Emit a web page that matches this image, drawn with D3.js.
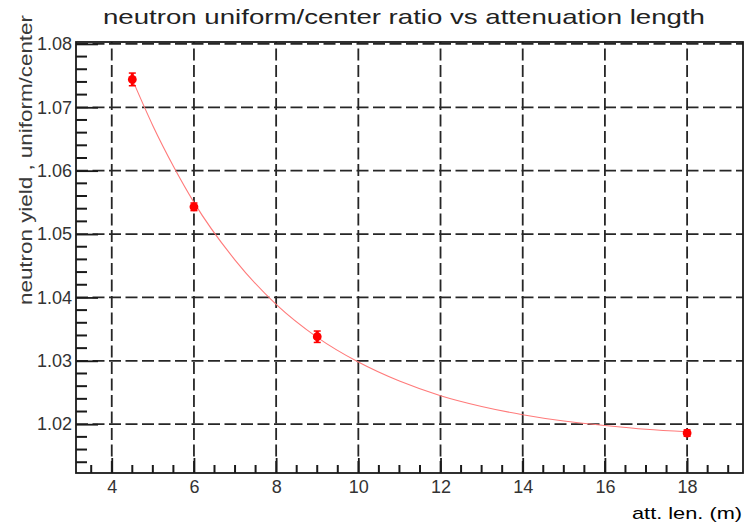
<!DOCTYPE html>
<html>
<head>
<meta charset="utf-8">
<script src="https://cdn.jsdelivr.net/npm/d3@7"></script>
<style>
  html, body { margin: 0; padding: 0; background: #fff; }
  svg { display: block; font-family: "Liberation Sans", Arial, sans-serif; }
</style>
</head>
<body>
<svg id="chart" width="749" height="523"></svg>
<script>
// Measured points: attenuation length (m) vs uniform/center neutron yield ratio
const attLength = [4.5, 6, 9, 18];
const yieldRatio = [1.0744, 1.0543, 1.0338, 1.0186];
const yieldErr = [0.0010, 0.0006, 0.0009, 0.0005];

// Fitted curve, sampled along the attenuation length
const fitX = [4.5, 5, 5.5, 6, 7, 8, 9, 10, 11, 12, 13, 14, 15, 16, 17, 18];
const fitY = [1.0744, 1.0671, 1.0607, 1.0550, 1.0459, 1.0389, 1.0337, 1.0298,
              1.0268, 1.0245, 1.0228, 1.0215, 1.0205, 1.0198, 1.0192, 1.0188];

// Axis ranges and labelled ticks
const xDomain = [3.13, 19.36];
const yDomain = [1.0123, 1.0803];
const xTicks = [4, 6, 8, 10, 12, 14, 16, 18];
const yTicks = [1.02, 1.03, 1.04, 1.05, 1.06, 1.07, 1.08];

const titleText = "neutron uniform/center ratio vs attenuation length";
const xTitle = "att. len. (m)";
const yTitle = "neutron yield , uniform/center";

const frame = { left: 76, right: 743, top: 42, bottom: 473 };
const svg = d3.select("#chart");

const x = d3.scaleLinear().domain(xDomain).range([frame.left, frame.right]);
const y = d3.scaleLinear().domain(yDomain).range([frame.bottom, frame.top]);

// minor tick positions between the labelled ones
const xMinor = d3.range(7, 39).map(v => v / 2).filter(v => v % 2 !== 0);
const yMinor = d3.range(1014, 1081, 2).filter(v => v % 10 !== 0).map(v => v / 1000);

// dashed grid at the labelled ticks
const grid = svg.append("g").attr("stroke", "#262626").attr("stroke-width", 1.8)
  .attr("stroke-dasharray", "12,4.5").attr("fill", "none");
grid.selectAll("line.gx").data(xTicks).join("line").attr("class", "gx")
  .attr("x1", d => x(d)).attr("x2", d => x(d))
  .attr("y1", frame.bottom).attr("y2", frame.top);
grid.selectAll("line.gy").data(yTicks).join("line").attr("class", "gy")
  .attr("y1", d => y(d)).attr("y2", d => y(d))
  .attr("x1", frame.left).attr("x2", frame.right);

// fitted curve
const line = d3.line().x((d, i) => x(fitX[i])).y(d => y(d)).curve(d3.curveMonotoneX);
svg.append("path").datum(fitY)
  .attr("d", line)
  .attr("fill", "none")
  .attr("stroke", "#ff7a7a")
  .attr("stroke-width", 1.1);

// error bars and markers
const pts = svg.append("g");
attLength.forEach((xv, i) => {
  const cx = x(xv), cy = y(yieldRatio[i]);
  const y1 = y(yieldRatio[i] - yieldErr[i]), y2 = y(yieldRatio[i] + yieldErr[i]);
  pts.append("line").attr("x1", cx).attr("x2", cx).attr("y1", y1).attr("y2", y2)
    .attr("stroke", "#ff0000").attr("stroke-width", 3);
  [y1, y2].forEach(yy => pts.append("line")
    .attr("x1", cx - 3.5).attr("x2", cx + 3.5).attr("y1", yy).attr("y2", yy)
    .attr("stroke", "#ff0000").attr("stroke-width", 1.5));
  pts.append("circle").attr("cx", cx).attr("cy", cy).attr("r", 4.4).attr("fill", "#ff0000");
});

// axes with inward ticks
const axisStyle = g => {
  g.selectAll(".domain").remove();
  g.selectAll("line").attr("stroke", "#1a1a1a").attr("stroke-width", 1.8);
  g.selectAll("text").attr("fill", "#333").attr("font-size", 18)
    .attr("font-family", "'Liberation Sans', Arial, sans-serif");
};

svg.append("g").attr("transform", `translate(0,${frame.bottom})`)
  .call(d3.axisBottom(x).tickValues(xTicks).tickFormat(d3.format("d"))
    .tickSizeInner(-15).tickSizeOuter(0).tickPadding(7))
  .call(axisStyle);

svg.append("g").attr("transform", `translate(${frame.left},0)`)
  .call(d3.axisLeft(y).tickValues(yTicks).tickFormat(d3.format(".2f"))
    .tickSizeInner(-22).tickSizeOuter(0).tickPadding(4))
  .call(axisStyle);

// minor ticks
const minor = svg.append("g").attr("stroke", "#1a1a1a").attr("stroke-width", 2);
minor.selectAll("line.mx").data(xMinor).join("line").attr("class", "mx")
  .attr("x1", d => x(d)).attr("x2", d => x(d))
  .attr("y1", frame.bottom).attr("y2", frame.bottom - 8);
minor.selectAll("line.my").data(yMinor).join("line").attr("class", "my")
  .attr("y1", d => y(d)).attr("y2", d => y(d))
  .attr("x1", frame.left).attr("x2", frame.left + 11);

// frame
svg.append("rect")
  .attr("x", frame.left).attr("y", frame.top)
  .attr("width", frame.right - frame.left).attr("height", frame.bottom - frame.top)
  .attr("fill", "none").attr("stroke", "#1a1a1a").attr("stroke-width", 1.8);

// titles
svg.append("text").attr("x", 103).attr("y", 24)
  .attr("font-size", 21).attr("fill", "#222")
  .attr("textLength", 602).attr("lengthAdjust", "spacingAndGlyphs")
  .text(titleText);

svg.append("text").attr("x", 742).attr("y", 519)
  .attr("text-anchor", "end").attr("font-size", 17).attr("fill", "#000")
  .attr("textLength", 110).attr("lengthAdjust", "spacingAndGlyphs")
  .text(xTitle);

svg.append("text").attr("transform", "translate(32,305) rotate(-90)")
  .attr("font-size", 17.5).attr("fill", "#3a3a3a")
  .attr("textLength", 290).attr("lengthAdjust", "spacingAndGlyphs")
  .text(yTitle);
</script>
</body>
</html>
